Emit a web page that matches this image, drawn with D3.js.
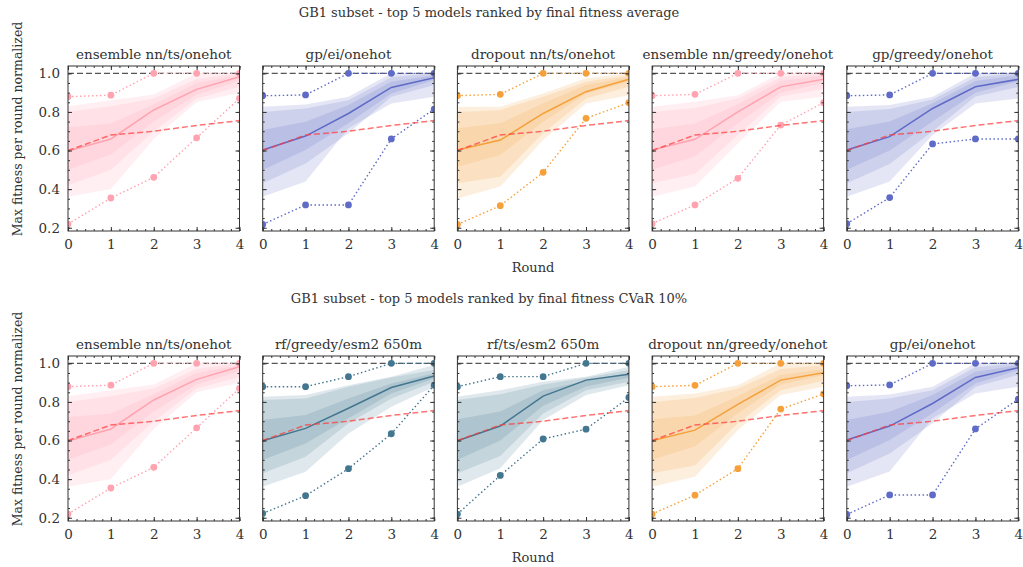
<!DOCTYPE html>
<html>
<head>
<meta charset="utf-8">
<script src="https://cdn.jsdelivr.net/npm/d3@7"></script>
<style>
  body { margin: 0; background: #fff; }
  svg text { font-family: "DejaVu Serif", serif !important; fill: #333; }
</style>
</head>
<body>
<div id="chart"></div>
<script>
// Rounds and shared reference lines
var rounds = [0, 1, 2, 3, 4];
var baseline = [0.60, 0.68, 0.70, 0.73, 0.755];
var optimum = 1.0;

var rowTitles = [
  "GB1 subset - top 5 models ranked by final fitness average",
  "GB1 subset - top 5 models ranked by final fitness CVaR 10%"
];
var topModels = ["ensemble nn/ts/onehot", "gp/ei/onehot", "dropout nn/ts/onehot", "ensemble nn/greedy/onehot", "gp/greedy/onehot"];
var bottomModels = ["ensemble nn/ts/onehot", "rf/greedy/esm2 650m", "rf/ts/esm2 650m", "dropout nn/greedy/onehot", "gp/ei/onehot"];

var xTicks = [0, 1, 2, 3, 4];
var yTicks = [0.2, 0.4, 0.6, 0.8, 1.0];

// median of the runs per round
var median = {
  "ensemble nn/ts/onehot":     [0.597, 0.660, 0.810, 0.917, 0.982],
  "gp/ei/onehot":              [0.603, 0.675, 0.792, 0.927, 0.977],
  "dropout nn/ts/onehot":      [0.603, 0.654, 0.792, 0.905, 0.970],
  "ensemble nn/greedy/onehot": [0.603, 0.658, 0.800, 0.930, 0.969],
  "gp/greedy/onehot":          [0.603, 0.672, 0.818, 0.930, 0.969],
  "rf/greedy/esm2 650m":       [0.599, 0.663, 0.767, 0.875, 0.934],
  "rf/ts/esm2 650m":           [0.599, 0.675, 0.830, 0.913, 0.944],
  "dropout nn/greedy/onehot":  [0.599, 0.654, 0.787, 0.913, 0.951]
};
// best and worst run
var upper = {
  "ensemble nn/ts/onehot":     [0.879, 0.887, 1.0, 1.0, 1.0],
  "gp/ei/onehot":              [0.884, 0.888, 1.0, 1.0, 1.0],
  "dropout nn/ts/onehot":      [0.884, 0.891, 1.0, 1.0, 1.0],
  "ensemble nn/greedy/onehot": [0.884, 0.891, 1.0, 1.0, 1.0],
  "gp/greedy/onehot":          [0.884, 0.888, 1.0, 1.0, 1.0],
  "rf/greedy/esm2 650m":       [0.879, 0.879, 0.931, 1.0, 1.0],
  "rf/ts/esm2 650m":           [0.879, 0.931, 0.931, 1.0, 1.0],
  "dropout nn/greedy/onehot":  [0.879, 0.886, 1.0, 1.0, 1.0]
};
var lower = {
  "ensemble nn/ts/onehot":     [0.219, 0.354, 0.461, 0.666, 0.870],
  "gp/ei/onehot":              [0.217, 0.318, 0.318, 0.660, 0.815],
  "dropout nn/ts/onehot":      [0.217, 0.314, 0.487, 0.767, 0.848],
  "ensemble nn/greedy/onehot": [0.221, 0.318, 0.456, 0.732, 0.848],
  "gp/greedy/onehot":          [0.221, 0.356, 0.634, 0.660, 0.660],
  "rf/greedy/esm2 650m":       [0.222, 0.314, 0.454, 0.635, 0.887],
  "rf/ts/esm2 650m":           [0.219, 0.419, 0.608, 0.659, 0.823],
  "dropout nn/greedy/onehot":  [0.219, 0.317, 0.454, 0.763, 0.841]
};
// quantile bands: [lo, hi] for outer, mid, inner
var outerBand = {
  "ensemble nn/ts/onehot":     [[0.36, 0.40, 0.66, 0.85, 0.90], [0.83, 0.86, 0.89, 1.0, 1.0]],
  "gp/ei/onehot":              [[0.361, 0.439, 0.715, 0.844, 0.879], [0.827, 0.839, 0.879, 1.0, 1.0]],
  "dropout nn/ts/onehot":      [[0.352, 0.413, 0.654, 0.844, 0.887], [0.827, 0.827, 0.896, 0.974, 1.0]],
  "ensemble nn/greedy/onehot": [[0.361, 0.413, 0.637, 0.853, 0.879], [0.827, 0.853, 0.887, 1.0, 1.0]],
  "gp/greedy/onehot":          [[0.361, 0.439, 0.680, 0.844, 0.870], [0.827, 0.836, 0.879, 1.0, 1.0]],
  "rf/greedy/esm2 650m":       [[0.361, 0.438, 0.637, 0.775, 0.879], [0.827, 0.836, 0.887, 0.931, 0.991]],
  "rf/ts/esm2 650m":           [[0.361, 0.456, 0.706, 0.836, 0.887], [0.827, 0.861, 0.905, 0.931, 0.982]],
  "dropout nn/greedy/onehot":  [[0.361, 0.412, 0.654, 0.836, 0.879], [0.827, 0.844, 0.887, 1.0, 1.0]]
};
var midBand = {
  "ensemble nn/ts/onehot":     [[0.42, 0.50, 0.70, 0.87, 0.93], [0.80, 0.83, 0.87, 0.97, 1.0]],
  "gp/ei/onehot":              [[0.43, 0.533, 0.689, 0.879, 0.94], [0.80, 0.818, 0.861, 0.98, 1.0]],
  "dropout nn/ts/onehot":      [[0.43, 0.464, 0.689, 0.87, 0.93], [0.80, 0.81, 0.879, 0.957, 0.99]],
  "ensemble nn/greedy/onehot": [[0.43, 0.48, 0.68, 0.88, 0.92], [0.80, 0.82, 0.87, 0.98, 1.0]],
  "gp/greedy/onehot":          [[0.43, 0.53, 0.70, 0.88, 0.93], [0.80, 0.815, 0.865, 0.98, 1.0]],
  "rf/greedy/esm2 650m":       [[0.43, 0.516, 0.689, 0.818, 0.905], [0.81, 0.818, 0.879, 0.927, 0.965]],
  "rf/ts/esm2 650m":           [[0.43, 0.52, 0.74, 0.86, 0.905], [0.81, 0.84, 0.89, 0.925, 0.965]],
  "dropout nn/greedy/onehot":  [[0.43, 0.47, 0.69, 0.86, 0.91], [0.80, 0.82, 0.87, 0.97, 0.99]]
};
var innerBand = {
  "ensemble nn/ts/onehot":     [[0.50, 0.58, 0.75, 0.89, 0.96], [0.72, 0.74, 0.84, 0.95, 0.99]],
  "gp/ei/onehot":              [[0.499, 0.603, 0.741, 0.896, 0.965], [0.706, 0.749, 0.836, 0.957, 0.99]],
  "dropout nn/ts/onehot":      [[0.516, 0.577, 0.749, 0.896, 0.957], [0.715, 0.741, 0.845, 0.94, 0.98]],
  "ensemble nn/greedy/onehot": [[0.50, 0.57, 0.74, 0.90, 0.95], [0.71, 0.74, 0.84, 0.96, 0.99]],
  "gp/greedy/onehot":          [[0.50, 0.60, 0.75, 0.90, 0.96], [0.71, 0.75, 0.845, 0.96, 0.99]],
  "rf/greedy/esm2 650m":       [[0.499, 0.585, 0.715, 0.844, 0.922], [0.706, 0.732, 0.818, 0.896, 0.948]],
  "rf/ts/esm2 650m":           [[0.50, 0.60, 0.78, 0.88, 0.925], [0.71, 0.75, 0.86, 0.91, 0.95]],
  "dropout nn/greedy/onehot":  [[0.50, 0.57, 0.74, 0.89, 0.94], [0.71, 0.73, 0.83, 0.94, 0.97]]
};

// colours by model family
var colors = {
  "ensemble nn/ts/onehot": "#ffa3b0",
  "ensemble nn/greedy/onehot": "#ffa3b0",
  "gp/ei/onehot": "#5f6bc6",
  "gp/greedy/onehot": "#5f6bc6",
  "dropout nn/ts/onehot": "#f5a03a",
  "dropout nn/greedy/onehot": "#f5a03a",
  "rf/greedy/esm2 650m": "#43768f",
  "rf/ts/esm2 650m": "#43768f"
};
var serif = "'DejaVu Serif', serif";

// Layout
var W = 1023, H = 567;
var panelLefts = [68, 262.7, 457.4, 652.1, 846.8];
var panelW = 171.5;
var rowTops = [66, 356];
var titleYs = [17, 303];
var panelH = 165;
var yDomain = [0.183, 1.038];

var svg = d3.select("#chart")
  .append("svg")
  .attr("width", W)
  .attr("height", H)
  .attr("font-family", serif);

function drawRow(r, models) {
  var top = rowTops[r];
  var y = d3.scaleLinear().domain(yDomain).range([top + panelH, top]);

  // row title
  svg.append("text")
    .attr("x", 489)
    .attr("y", titleYs[r])
    .attr("text-anchor", "middle")
    .style("font-size", "13px")
    .text(rowTitles[r]);

  // y label
  svg.append("text")
    .attr("transform", "translate(22," + (top + 63) + ") rotate(-90)")
    .attr("text-anchor", "middle")
    .style("font-size", "12.5px")
    .text("Max fitness per round normalized");

  // x label
  svg.append("text")
    .attr("x", 533)
    .attr("y", top + panelH + 41)
    .attr("text-anchor", "middle")
    .style("font-size", "13px")
    .text("Round");

  models.forEach(function (m, c) {
    var left = panelLefts[c];
    var x = d3.scaleLinear().domain([0, 4]).range([left, left + panelW]);
    var g = svg.append("g");
    var clipId = "clip" + r + "_" + c;

    svg.append("clipPath").attr("id", clipId)
      .append("rect")
      .attr("x", left).attr("y", top)
      .attr("width", panelW).attr("height", panelH);

    var plot = g.append("g").attr("clip-path", "url(#" + clipId + ")");
    var col = colors[m];

    // fan of quantile bands
    var area = d3.area()
      .x(function (d) { return x(d.r); })
      .y0(function (d) { return y(d.lo); })
      .y1(function (d) { return y(d.hi); });
    [outerBand, midBand, innerBand].forEach(function (band) {
      var pts = rounds.map(function (rd, i) {
        return { r: rd, lo: band[m][0][i], hi: band[m][1][i] };
      });
      plot.append("path")
        .datum(pts)
        .attr("fill", col)
        .attr("fill-opacity", 0.17)
        .attr("d", area);
    });

    var line = d3.line()
      .x(function (d) { return x(d[0]); })
      .y(function (d) { return y(d[1]); });
    function pairs(arr) { return rounds.map(function (rd, i) { return [rd, arr[i]]; }); }

    // optimum line
    plot.append("path")
      .datum(pairs(rounds.map(function () { return optimum; })))
      .attr("fill", "none")
      .attr("stroke", "#555")
      .attr("stroke-width", 1.2)
      .attr("stroke-dasharray", "6,3")
      .attr("d", line);

    // median line
    plot.append("path")
      .datum(pairs(median[m]))
      .attr("fill", "none")
      .attr("stroke", col)
      .attr("stroke-width", 1.5)
      .attr("d", line);

    // best / worst runs
    [upper[m], lower[m]].forEach(function (arr) {
      plot.append("path")
        .datum(pairs(arr))
        .attr("fill", "none")
        .attr("stroke", col)
        .attr("stroke-width", 1.4)
        .attr("stroke-dasharray", "1.5,2.5")
        .attr("d", line);
      plot.selectAll(null)
        .data(pairs(arr))
        .enter().append("circle")
        .attr("cx", function (d) { return x(d[0]); })
        .attr("cy", function (d) { return y(d[1]); })
        .attr("r", 3.4)
        .attr("fill", col);
    });

    // baseline
    plot.append("path")
      .datum(pairs(baseline))
      .attr("fill", "none")
      .attr("stroke", "#ff3b3b")
      .attr("stroke-opacity", 0.72)
      .attr("stroke-width", 1.5)
      .attr("stroke-dasharray", "6,3")
      .attr("d", line);

    // axes with inward ticks on all sides
    var xMinor = d3.range(0, 4.01, 0.2);
    var yMinor = d3.range(0.2, 1.04, 0.05);
    function axisGroup(axis, tr) {
      var a = g.append("g").attr("transform", tr).call(axis);
      a.attr("font-family", serif);
      a.select(".domain").remove();
      a.selectAll("line").attr("stroke", "#333");
      a.selectAll("text").style("font-size", "13.5px").attr("fill", "#333");
      return a;
    }
    axisGroup(d3.axisBottom(x).tickValues(xTicks).tickFormat(d3.format("d")).tickSize(-4).tickPadding(8), "translate(0," + (top + panelH) + ")");
    axisGroup(d3.axisBottom(x).tickValues(xMinor).tickFormat("").tickSize(-2), "translate(0," + (top + panelH) + ")");
    axisGroup(d3.axisTop(x).tickValues(xTicks).tickFormat("").tickSize(-4), "translate(0," + top + ")");
    axisGroup(d3.axisTop(x).tickValues(xMinor).tickFormat("").tickSize(-2), "translate(0," + top + ")");
    var yl = d3.axisLeft(y).tickValues(yTicks).tickFormat(c === 0 ? d3.format(".1f") : "").tickSize(-4).tickPadding(8);
    axisGroup(yl, "translate(" + left + ",0)");
    axisGroup(d3.axisLeft(y).tickValues(yMinor).tickFormat("").tickSize(-2), "translate(" + left + ",0)");
    axisGroup(d3.axisRight(y).tickValues(yTicks).tickFormat("").tickSize(-4), "translate(" + (left + panelW) + ",0)");
    axisGroup(d3.axisRight(y).tickValues(yMinor).tickFormat("").tickSize(-2), "translate(" + (left + panelW) + ",0)");

    // frame
    g.append("rect")
      .attr("x", left).attr("y", top)
      .attr("width", panelW).attr("height", panelH)
      .attr("fill", "none")
      .attr("stroke", "#333")
      .attr("stroke-width", 1);

    // panel title
    g.append("text")
      .attr("x", left + panelW / 2)
      .attr("y", top - 7)
      .attr("text-anchor", "middle")
      .style("font-size", "13.5px")
      .text(m);
  });
}

drawRow(0, topModels);
drawRow(1, bottomModels);
</script>
</body>
</html>
